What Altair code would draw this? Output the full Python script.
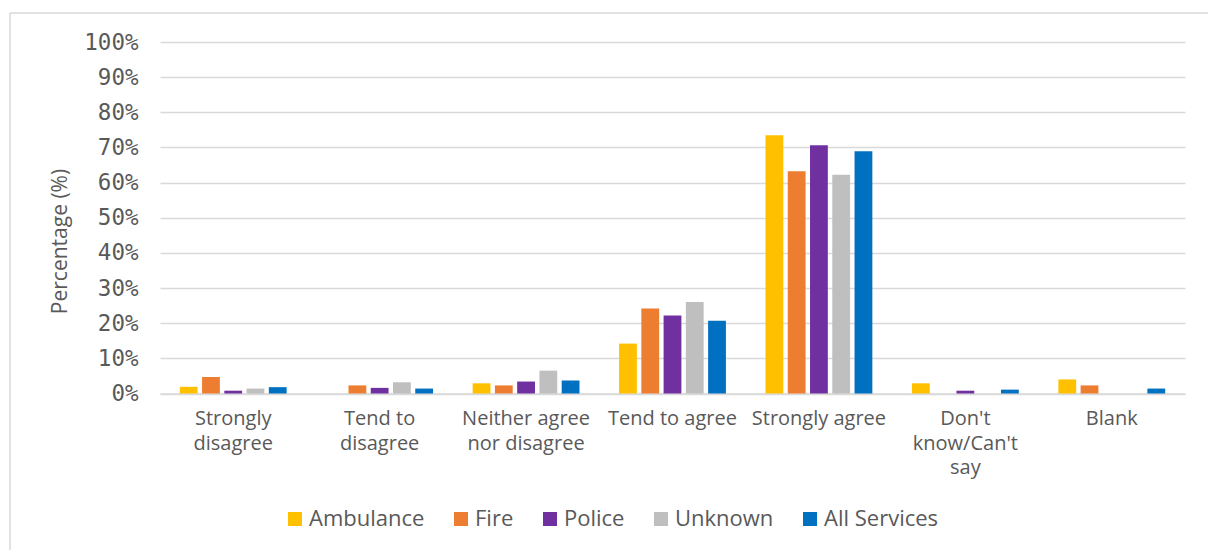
import altair as alt
import pandas as pd

# Survey response categories and the share of respondents (%) per service
categories = [
    "Strongly disagree",
    "Tend to disagree",
    "Neither agree nor disagree",
    "Tend to agree",
    "Strongly agree",
    "Don't know/Can't say",
    "Blank",
]
category_lines = [
    ["Strongly", "disagree"],
    ["Tend to", "disagree"],
    ["Neither agree", "nor disagree"],
    ["Tend to agree"],
    ["Strongly agree"],
    ["Don't", "know/Can't", "say"],
    ["Blank"],
]
services = ["Ambulance", "Fire", "Police", "Unknown", "All Services"]
colors = ["#FFC000", "#ED7D31", "#7030A0", "#BFBFBF", "#0070C0"]

ambulance = [1.9, 0.0, 2.9, 14.2, 73.5, 2.9, 4.0]
fire = [4.7, 2.3, 2.3, 24.2, 63.2, 0.0, 2.3]
police = [0.8, 1.6, 3.4, 22.2, 70.6, 0.8, 0.0]
unknown = [1.4, 3.2, 6.5, 26.0, 62.2, 0.0, 0.0]
all_services = [1.8, 1.4, 3.7, 20.7, 68.9, 1.1, 1.4]

series = dict(zip(services, [ambulance, fire, police, unknown, all_services]))
rows = []
for svc, vals in series.items():
    for cat, v in zip(categories, vals):
        rows.append({"Response": cat, "Service": svc, "Pct": v / 100.0})
df = pd.DataFrame(rows)

# Multi-line axis labels
def js_str(s):
    return "'" + s.replace("\\", "\\\\").replace("'", "\\'") + "'"

label_expr = ""
for cat, lines in zip(categories, category_lines):
    arr = "[" + ",".join(js_str(l) for l in lines) + "]"
    label_expr += f"datum.label == {js_str(cat)} ? {arr} : "
label_expr += "datum.label"

W, H = 1025, 351.5
TEXT = "#595959"
GRID = "#D9D9D9"
FONT = "Open Sans"

bars = alt.Chart(df).mark_bar().encode(
    x=alt.X(
        "Response:N",
        sort=categories,
        scale=alt.Scale(paddingInner=0.24, paddingOuter=0.12),
        axis=alt.Axis(
            title=None,
            labelAngle=0,
            labelExpr=label_expr,
            labelFont=FONT,
            labelFontSize=20,
            labelColor=TEXT,
            labelPadding=15,
            labelLineHeight=24.5,
            labelBaseline="top",
            ticks=False,
            domainColor=GRID,
            domainWidth=1.5,
        ),
    ),
    xOffset=alt.XOffset(
        "Service:N",
        sort=services,
        scale=alt.Scale(paddingInner=0.2, paddingOuter=0.1),
    ),
    y=alt.Y(
        "Pct:Q",
        scale=alt.Scale(domain=[0, 1], nice=False),
        axis=alt.Axis(
            title="Percentage (%)",
            format=".0%",
            values=[i / 10 for i in range(11)],
            labelFont="DejaVu Sans Mono",
            labelFontSize=22.5,
            labelColor=TEXT,
            labelPadding=22,
            ticks=False,
            domain=False,
            gridColor=GRID,
            gridWidth=1.5,
            titleFont=FONT,
            titleFontSize=21,
            titleFontWeight="normal",
            titleColor=TEXT,
            titleX=-100,
            titleY=199,
            titleAngle=-90,
            titleAlign="center",
            titleBaseline="middle",
        ),
    ),
    color=alt.Color(
        "Service:N",
        sort=services,
        scale=alt.Scale(domain=services, range=colors),
        legend=alt.Legend(
            title=None,
            orient="none",
            direction="horizontal",
            legendX=124,
            legendY=466,
            symbolType="square",
            symbolSize=196,
            symbolStrokeWidth=0,
            labelFont=FONT,
            labelFontSize=22,
            labelColor=TEXT,
            labelOffset=3,
            columnPadding=25,
        ),
    ),
)

# Chart-area frame
frame_top = alt.Chart(pd.DataFrame({"k": [0]})).mark_rule(
    color=GRID, strokeWidth=1.5
).encode(x=alt.value(-150), x2=alt.value(1060), y=alt.value(-29))
frame_left = alt.Chart(pd.DataFrame({"k": [0]})).mark_rule(
    color=GRID, strokeWidth=1.5
).encode(x=alt.value(-150), y=alt.value(-29), y2=alt.value(520))

chart = (
    alt.layer(frame_top, frame_left, bars)
    .properties(
        width=W,
        height=H,
        autosize=alt.AutoSizeParams(type="none"),
        padding={"left": 160, "top": 42, "right": 23, "bottom": 156},
        background="white",
    )
    .configure_view(stroke=None)
)

chart.save("out.html", embed_options={"renderer": "svg", "actions": False})
